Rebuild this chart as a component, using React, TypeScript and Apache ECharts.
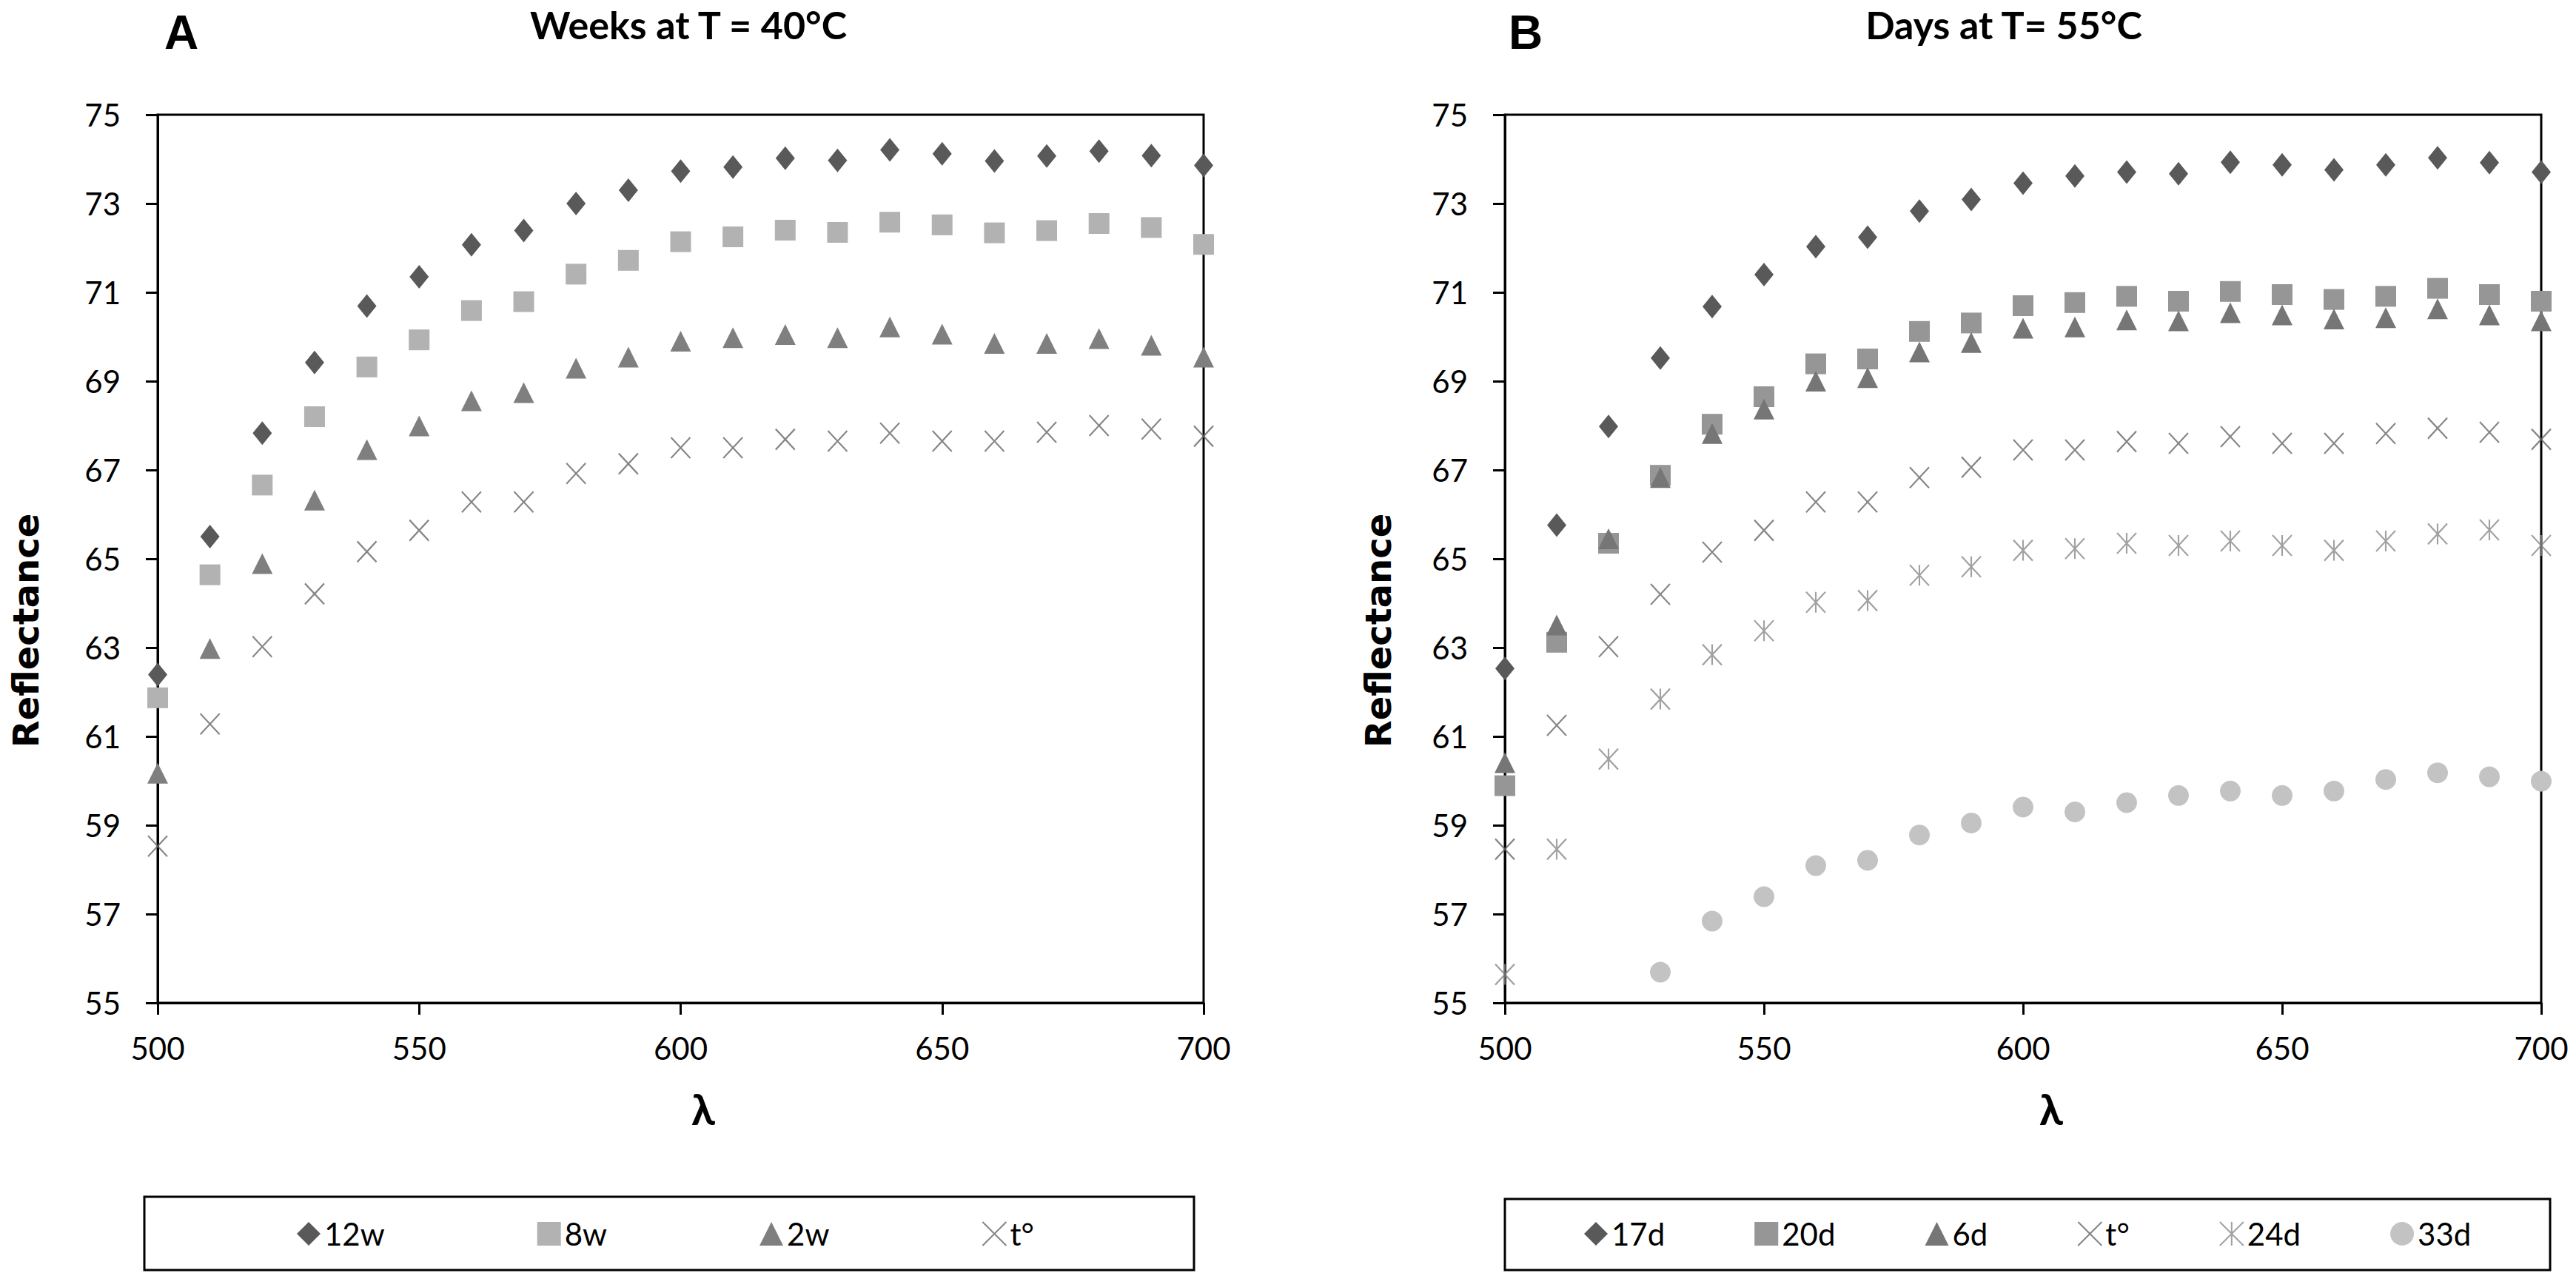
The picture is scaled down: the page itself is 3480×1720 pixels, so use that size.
import React, { useEffect, useRef } from 'react';
import * as echarts from 'echarts';

// wavelength (nm)
const wavelengths = [500, 510, 520, 530, 540, 550, 560, 570, 580, 590, 600, 610, 620, 630, 640, 650, 660, 670, 680, 690, 700];

// panel A : weeks at 40°C
const w12 = [62.39, 65.5, 67.83, 69.42, 70.69, 71.35, 72.07, 72.39, 73.0, 73.3, 73.73, 73.82, 74.02, 73.97, 74.21, 74.12, 73.96, 74.07, 74.18, 74.08, 73.86];
const w8 = [61.87, 64.64, 66.66, 68.2, 69.32, 69.93, 70.59, 70.79, 71.41, 71.72, 72.14, 72.25, 72.4, 72.35, 72.58, 72.52, 72.34, 72.39, 72.55, 72.46, 72.08];
const w2 = [60.17, 62.98, 64.89, 66.32, 67.46, 67.99, 68.56, 68.74, 69.29, 69.54, 69.9, 69.98, 70.05, 69.98, 70.22, 70.06, 69.85, 69.85, 69.96, 69.81, 69.54];
const tA = [58.53, 61.28, 63.02, 64.21, 65.16, 65.64, 66.28, 66.28, 66.92, 67.14, 67.5, 67.5, 67.69, 67.65, 67.83, 67.65, 67.65, 67.85, 68.0, 67.92, 67.76];

// panel B : days at 55°C
const d17 = [62.53, 65.76, 67.98, 69.52, 70.68, 71.4, 72.03, 72.24, 72.83, 73.09, 73.46, 73.62, 73.71, 73.67, 73.93, 73.87, 73.76, 73.87, 74.03, 73.92, 73.71];
const d20 = [59.89, 63.12, 65.35, 66.88, 68.03, 68.65, 69.39, 69.5, 70.12, 70.31, 70.7, 70.77, 70.91, 70.8, 71.02, 70.95, 70.84, 70.91, 71.09, 70.95, 70.8];
const d6 = [60.41, 63.51, 65.45, 66.83, 67.82, 68.37, 69.0, 69.08, 69.66, 69.87, 70.19, 70.22, 70.38, 70.36, 70.54, 70.49, 70.4, 70.43, 70.63, 70.49, 70.36];
const tB = [58.46, 61.25, 63.02, 64.2, 65.15, 65.64, 66.28, 66.28, 66.83, 67.06, 67.45, 67.45, 67.64, 67.6, 67.75, 67.6, 67.6, 67.82, 67.94, 67.85, 67.69];
const d24 = [55.64, 58.46, 60.49, 61.84, 62.84, 63.38, 64.02, 64.06, 64.63, 64.82, 65.19, 65.23, 65.35, 65.3, 65.4, 65.3, 65.19, 65.4, 65.56, 65.65, 65.3];
const d33 = [null, null, null, 55.69, 56.84, 57.39, 58.09, 58.21, 58.78, 59.05, 59.41, 59.3, 59.51, 59.67, 59.77, 59.67, 59.77, 60.03, 60.18, 60.09, 59.99];

const xTicks = { min: 500, max: 700, interval: 50 };
const yTicks = { min: 55, max: 75, interval: 2 };

const CROSS = 'path://M0,0L10,10M10,0L0,10';
const STAR = 'path://M0,0L10,10M10,0L0,10M5,0L5,10';

const pts = (vals: (number | null)[]) =>
  wavelengths.map((x, i) => [x, vals[i]]).filter((p) => p[1] != null);

export default function App() {
  const chartRef = useRef<HTMLDivElement>(null);

  useEffect(() => {
    if (!chartRef.current) return;
    document.body.style.margin = '0';
    const myChart = echarts.init(chartRef.current, null, { renderer: 'svg' });

    const axisLine = { show: true, onZero: false, lineStyle: { color: '#000', width: 3 } };
    const axisTick = { show: true, length: 16, lineStyle: { color: '#000', width: 3 } };
    const label = { fontSize: 42, fontFamily: 'Lato', color: '#000' };

    const xAxis = (gridIndex: number) => ({
      type: 'value', gridIndex, ...xTicks,
      axisLine, axisTick,
      axisLabel: { ...label, margin: 40 },
      splitLine: { show: false },
    });
    const yAxis = (gridIndex: number) => ({
      type: 'value', gridIndex, ...yTicks,
      axisLine, axisTick,
      axisLabel: { ...label, margin: 50 },
      splitLine: { show: false },
    });

    const scatter = (name: string, idx: number, vals: (number | null)[], symbol: string, size: any, color: string, line = false) => ({
      name, type: 'scatter', xAxisIndex: idx, yAxisIndex: idx,
      data: pts(vals), symbol, symbolSize: size,
      itemStyle: line
        ? { color: 'rgba(0,0,0,0)', borderColor: color, borderWidth: 2.2 }
        : { color, opacity: 1 },
    });

    const legendText = { fontSize: 42, fontFamily: 'Lato', color: '#000' };

    const text = (t: string, x: number, y: number, font: string, rotation = 0) => ({
      type: 'text', x, y, rotation,
      style: { text: t, font, fill: '#000', align: 'center', verticalAlign: 'middle' },
    });

    const option = {
      animation: false,
      grid: [
        { left: 213, top: 155, width: 1413, height: 1200, show: true, borderColor: '#000', borderWidth: 3 },
        { left: 2033, top: 155, width: 1400, height: 1200, show: true, borderColor: '#000', borderWidth: 3 },
      ],
      xAxis: [xAxis(0), xAxis(1)],
      yAxis: [yAxis(0), yAxis(1)],
      legend: [
        {
          data: ['12w', '8w', '2w', 't°'], left: 401, top: 1646, padding: 0,
          itemGap: 206, itemWidth: 32, itemHeight: 32, textStyle: legendText,
        },
        {
          data: ['17d', '20d', '6d', 't°', '24d', '33d'], left: 2140, top: 1646, padding: 0,
          itemGap: 121, itemWidth: 32, itemHeight: 32, textStyle: legendText,
        },
      ],
      series: [
        scatter('12w', 0, w12, 'diamond', [26, 32], '#595959'),
        scatter('8w', 0, w8, 'rect', [28, 28], '#b2b2b2'),
        scatter('2w', 0, w2, 'triangle', [28, 28], '#7f7f7f'),
        scatter('t°', 0, tA, CROSS, [26, 28], '#666666', true),
        scatter('17d', 1, d17, 'diamond', [26, 32], '#595959'),
        scatter('20d', 1, d20, 'rect', [28, 28], '#969696'),
        scatter('6d', 1, d6, 'triangle', [28, 28], '#767676'),
        scatter('t°', 1, tB, CROSS, [26, 28], '#666666', true),
        scatter('24d', 1, d24, STAR, [26, 28], '#8a8a8a', true),
        scatter('33d', 1, d33, 'circle', 28, '#c3c3c3'),
      ],
      graphic: {
        elements: [
          text('A', 245, 44, 'bold 64px "Liberation Sans"'),
          text('B', 2061, 44, 'bold 64px "Liberation Sans"'),
          text('Weeks at T = 40°C', 930, 33, 'bold 52px Lato'),
          text('Days at T= 55°C', 2707, 33, 'bold 52px Lato'),
          text('Reflectance', 35, 852, 'bold 48px "DejaVu Sans"', Math.PI / 2),
          text('Reflectance', 1862, 852, 'bold 48px "DejaVu Sans"', Math.PI / 2),
          text('λ', 950, 1497, 'bold 58px Lato, "DejaVu Sans"'),
          text('λ', 2771, 1497, 'bold 58px Lato, "DejaVu Sans"'),
          { type: 'rect', shape: { x: 195, y: 1617, width: 1418, height: 99 }, style: { fill: 'none', stroke: '#000', lineWidth: 3 } },
          { type: 'rect', shape: { x: 2033, y: 1620, width: 1412, height: 96 }, style: { fill: 'none', stroke: '#000', lineWidth: 3 } },
        ],
      },
    };

    myChart.setOption(option);

    return () => {
      myChart.dispose();
    };
  }, []);

  return <div ref={chartRef} style={{ width: '3480px', height: '1720px' }} />;
}
